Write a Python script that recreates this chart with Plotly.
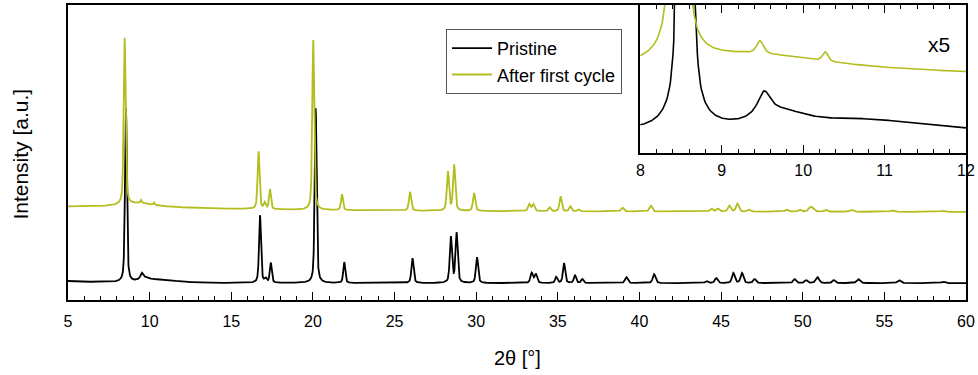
import numpy as np
import plotly.graph_objects as go

# ---------------- data ----------------
# Sharp Bragg peaks: position (2theta, deg), height (a.u.), half width (deg)
pristine_pos = [8.55, 16.76, 17.1, 17.42, 20.17, 21.92, 26.1,
                28.45, 28.8, 30.05, 33.4, 33.65, 34.9, 35.38, 36.05, 36.5, 39.2, 40.9,
                44.1, 44.7, 45.75, 46.28, 47.05, 49.5, 50.2, 50.9, 51.9, 53.4, 55.9, 58.6]
pristine_h = [175, 68, 4, 20, 176, 21, 25,
              46, 50, 26, 10, 9, 6, 20, 8, 4, 6, 9,
              2, 5, 10, 10, 4, 4, 3, 6, 3, 4, 3, 1.5]
pristine_w = [0.068, 0.07, 0.08, 0.07, 0.07, 0.07, 0.08,
              0.08, 0.08, 0.08, 0.09, 0.09, 0.08, 0.08, 0.08, 0.08, 0.1, 0.1,
              0.1, 0.1, 0.1, 0.1, 0.1, 0.1, 0.1, 0.12, 0.1, 0.12, 0.12, 0.12]
# Broad features / background of the pristine pattern
pristine_bg_pos = [5.0, 9.52, 9.75, 10.8]
pristine_bg_h = [2.0, 6.0, 3.5, 3.0]
pristine_bg_w = [1.5, 0.1, 0.4, 1.0]

cycled_pos = [8.47, 9.47, 10.27, 16.67, 17.05, 17.37, 20.02, 21.78, 25.95,
              28.27, 28.65, 29.87, 33.25, 33.5, 34.5, 35.17, 35.77, 36.25, 38.95, 40.7,
              44.4, 44.8, 45.5, 46.0, 46.7, 49.0, 49.8, 50.5, 51.4, 53.0, 55.5, 58.6]
cycled_h = [168, 3.0, 2.2, 58, 6, 20, 171, 16, 19,
            39, 46, 18, 7, 7, 4, 15, 5, 2, 4, 6,
            3, 3, 6, 8, 2, 2, 2, 5, 2, 2, 1.5, 1]
cycled_w = [0.07, 0.05, 0.04, 0.07, 0.07, 0.07, 0.07, 0.07, 0.08,
            0.08, 0.08, 0.08, 0.09, 0.09, 0.08, 0.08, 0.08, 0.08, 0.1, 0.1,
            0.1, 0.1, 0.1, 0.1, 0.1, 0.12, 0.12, 0.15, 0.12, 0.12, 0.12, 0.12]
cycled_bg_pos = [5.0, 9.4]
cycled_bg_h = [5.5, 4.0]
cycled_bg_w = [12.0, 1.2]

cycled_offset_main = 71.5    # vertical stacking offset in the main panel
cycled_offset_inset = 10.2   # vertical stacking offset in the x5 inset

x_ticks_main = [5, 10, 15, 20, 25, 30, 35, 40, 45, 50, 55, 60]
x_ticks_inset = [8, 9, 10, 11, 12]

series_names = ["Pristine", "After first cycle"]
series_colors = ["#000000", "#b2bd1e"]

# ---------------- build patterns from the peak lists ----------------
two_theta = np.round(np.arange(5.0, 60.0001, 0.01), 3)


def lorentz(x, pos, h, w):
    x = np.asarray(x)[:, None]
    p = np.asarray(pos)[None, :]
    hh = np.asarray(h)[None, :]
    ww = np.asarray(w)[None, :]
    return (hh * ww ** 2 / ((x - p) ** 2 + ww ** 2)).sum(axis=1)


def pvoigt(x, pos, h, w, eta=0.5):
    x = np.asarray(x)[:, None]
    p = np.asarray(pos)[None, :]
    hh = np.asarray(h)[None, :]
    ww = np.asarray(w)[None, :]
    d2 = (x - p) ** 2
    lor = ww ** 2 / (d2 + ww ** 2)
    gau = np.exp(-np.log(2) * d2 / ww ** 2)
    return (hh * (eta * lor + (1 - eta) * gau)).sum(axis=1)


pristine = (pvoigt(two_theta, pristine_pos, pristine_h, pristine_w)
            + lorentz(two_theta, pristine_bg_pos, pristine_bg_h, pristine_bg_w))
cycled = (pvoigt(two_theta, cycled_pos, cycled_h, cycled_w)
          + lorentz(two_theta, cycled_bg_pos, cycled_bg_h, cycled_bg_w))

mask = (two_theta >= 7.9) & (two_theta <= 12.1)

FONT = "Liberation Sans, Arial, sans-serif"

fig = go.Figure()
fig.add_trace(go.Scatter(x=two_theta, y=pristine, mode="lines", name=series_names[0],
                         line=dict(color=series_colors[0], width=1.8)))
fig.add_trace(go.Scatter(x=two_theta, y=cycled + cycled_offset_main, mode="lines",
                         name=series_names[1], line=dict(color=series_colors[1], width=1.8)))
# inset traces
fig.add_trace(go.Scatter(x=two_theta[mask], y=pristine[mask], mode="lines", showlegend=False,
                         xaxis="x2", yaxis="y2", line=dict(color=series_colors[0], width=1.6)))
fig.add_trace(go.Scatter(x=two_theta[mask], y=cycled[mask] + cycled_offset_inset, mode="lines",
                         showlegend=False, xaxis="x2", yaxis="y2",
                         line=dict(color=series_colors[1], width=1.6)))

fig.update_layout(
    width=978, height=375,
    margin=dict(l=68, r=11, t=3, b=75),
    paper_bgcolor="white", plot_bgcolor="white",
    font=dict(family=FONT, size=16, color="black"),
    showlegend=True,
    legend=dict(x=0.421, y=0.919, xanchor="left", yanchor="top",
                bgcolor="white", bordercolor="#555555", borderwidth=1,
                font=dict(size=18, family=FONT), tracegroupgap=0,
                itemwidth=40),
    xaxis=dict(domain=[0, 1], range=[5, 60], tickvals=x_ticks_main,
               ticktext=[str(v) for v in x_ticks_main],
               ticks="inside", ticklen=8, tickwidth=1.2, tickcolor="black",
               minor=dict(dtick=1, ticks="inside", ticklen=4, tickwidth=1.2, tickcolor="black"),
               showline=True, linecolor="black", linewidth=2, mirror=True,
               showgrid=False, zeroline=False, tickfont=dict(size=16),
               ticklabelstandoff=6),
    yaxis=dict(domain=[0, 1], range=[-17, 280], showticklabels=False, ticks="",
               showline=True, linecolor="black", linewidth=2, mirror=True,
               showgrid=False, zeroline=False),
    xaxis2=dict(domain=[0.6374, 1.0], anchor="y2", range=[8, 12], tickvals=x_ticks_inset,
                ticktext=[str(v) for v in x_ticks_inset],
                ticks="inside", ticklen=8, tickwidth=1.2, tickcolor="black",
                minor=dict(dtick=0.2, ticks="inside", ticklen=4, tickwidth=1.2, tickcolor="black"),
                showline=True, linecolor="black", linewidth=2, mirror="ticks",
                showgrid=False, zeroline=False, tickfont=dict(size=16),
                ticklabelstandoff=2),
    yaxis2=dict(domain=[0.498, 1.0], anchor="x2", range=[-4.5, 31.0], showticklabels=False,
                ticks="", showline=True, linecolor="black", linewidth=2, mirror=True,
                showgrid=False, zeroline=False),
    annotations=[
        dict(text="Intensity [a.u.]", xref="paper", yref="paper", x=-0.0523, y=0.493,
             xanchor="center", yanchor="middle", textangle=-90, showarrow=False,
             font=dict(size=21, family=FONT)),
        dict(text="2θ [°]", xref="paper", yref="paper", x=0.5006, y=-0.195,
             xanchor="center", yanchor="middle", showarrow=False,
             font=dict(size=20, family=FONT)),
        dict(text="x5", xref="paper", yref="paper", x=0.97, y=0.865,
             xanchor="center", yanchor="middle", showarrow=False,
             font=dict(size=21, family=FONT)),
    ],
)

fig.write_html("out.html")
